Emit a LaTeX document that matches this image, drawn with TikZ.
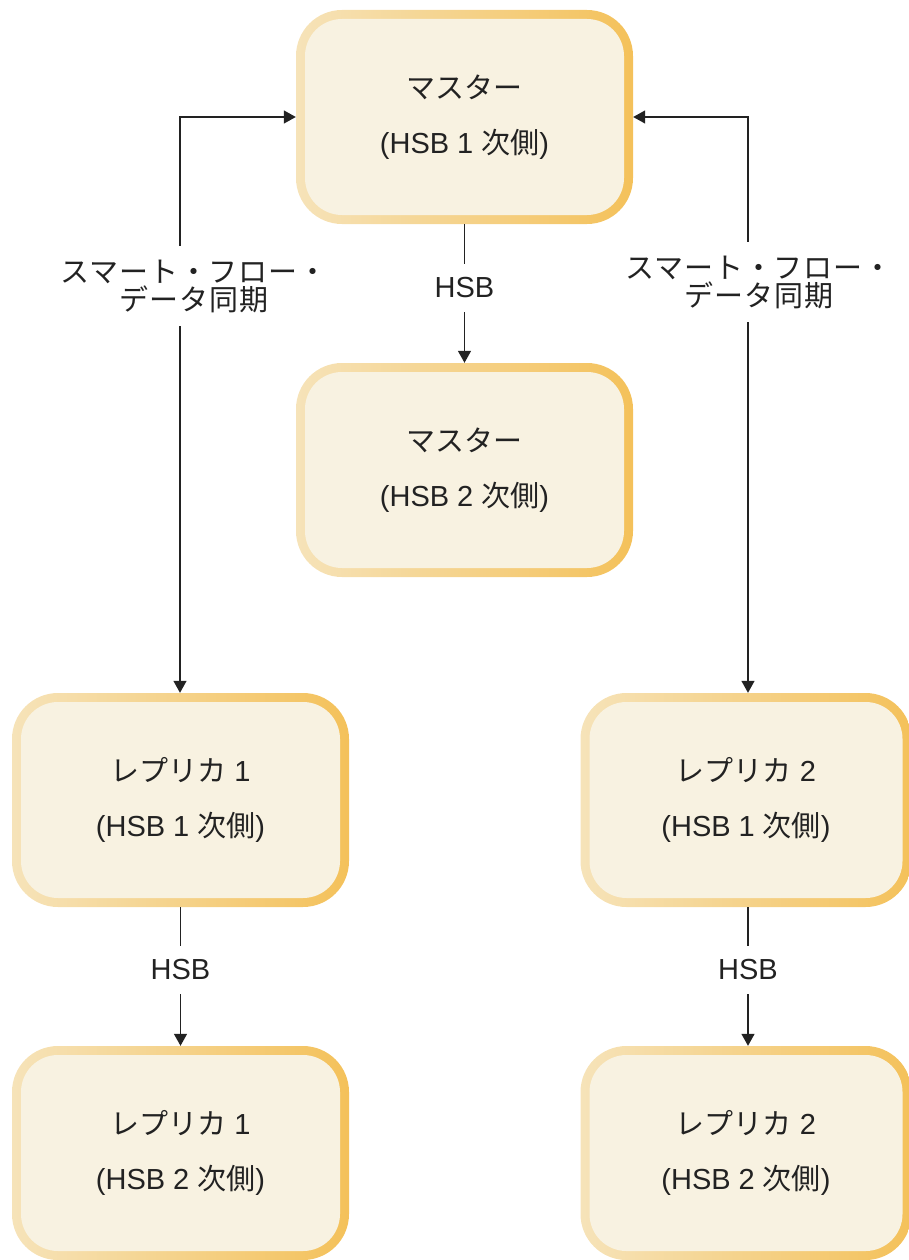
\documentclass[tikz,border=0pt]{standalone}
\usepackage{fontspec}
\setmainfont{Liberation Sans}
\newfontfamily\jp{Noto Sans CJK JP}
\newfontfamily\jpsp[LetterSpace=3]{Noto Sans CJK JP}
\usetikzlibrary{arrows.meta,calc}
\definecolor{boxfill}{HTML}{F8F2E1}
\definecolor{bordlight}{HTML}{F6E3B9}
\definecolor{borddark}{HTML}{F4C15A}
\definecolor{ink}{HTML}{222222}
\begin{document}
\begin{tikzpicture}[x=1pt,y=-1pt,
  hsbbox/.style={rectangle, rounded corners=46pt, minimum width=337pt,
    minimum height=214pt, inner sep=0pt, left color=bordlight, right color=borddark,
    align=center, text=ink, font=\fontsize{29pt}{55pt}\selectfont,
    path picture={\fill[boxfill, rounded corners=37pt]
      ($(path picture bounding box.north west)+(9pt,-9pt)$) rectangle
      ($(path picture bounding box.south east)+(-9pt,9pt)$);}},
  conn/.style={draw=ink, line width=1.4pt, -{Triangle[length=12pt,width=13pt]}},
  biconn/.style={draw=ink, line width=1.4pt, {Triangle[length=12pt,width=13pt]}-{Triangle[length=12pt,width=13pt]}},
  lbl/.style={fill=white, text=ink, align=center, inner xsep=4pt, inner ysep=14pt,
    font=\fontsize{29pt}{28pt}\selectfont}]
\useasboundingbox (0,0) rectangle (909,1260);
\clip (0,0) rectangle (909,1260);
\node[hsbbox] (m1) at (464.5,117) {{\jp マスター}\\(HSB 1 {\jp 次側})};
\node[hsbbox] (m2) at (464.5,470) {{\jp マスター}\\(HSB 2 {\jp 次側})};
\node[hsbbox] (r1) at (180.5,800) {{\jp レプリカ} 1\\(HSB 1 {\jp 次側})};
\node[hsbbox] (r1b) at (180.5,1153) {{\jp レプリカ} 1\\(HSB 2 {\jp 次側})};
\node[hsbbox, minimum width=331pt] (r2) at (746,800) {{\jp レプリカ} 2\\(HSB 1 {\jp 次側})};
\node[hsbbox, minimum width=331pt] (r2b) at (746,1153) {{\jp レプリカ} 2\\(HSB 2 {\jp 次側})};
\coordinate (lcorner) at (180,117);
\coordinate (rcorner) at (748,117);
\draw[biconn] (m1.west) -- (lcorner) -- (lcorner |- r1.north);
\draw[biconn] (m1.east) -- (rcorner) -- (rcorner |- r2.north);
\draw[conn] (m1.south) -- (m2.north);
\draw[conn] (r1.south) -- (r1b.north);
\draw[conn] (rcorner |- r2.south) -- (rcorner |- r2b.north);
\node[lbl] (ls) at (194,286) {\jpsp スマート・フロー・\\\jpsp データ同期};
\node[lbl] (rs) at (759,282) {\jpsp スマート・フロー・\\\jpsp データ同期};
\node[lbl] (h1) at (464.5,288) {HSB};
\node[lbl] (h2) at (180.5,970) {HSB};
\node[lbl] (h3) at (748,970) {HSB};
\end{tikzpicture}
\end{document}
